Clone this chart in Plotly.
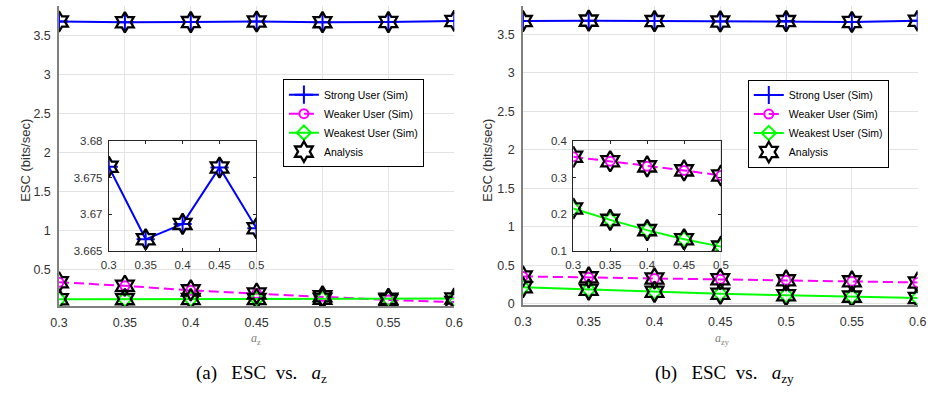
import plotly.graph_objects as go

# ---------------- data ----------------
x_main = [0.3, 0.35, 0.4, 0.45, 0.5, 0.55, 0.6]
x_inset = [0.3, 0.35, 0.4, 0.45, 0.5]

# (a) ESC vs a_z
strong_a = [3.6765, 3.6666, 3.6687, 3.6764, 3.6681, 3.6690, 3.6840]
weaker_a = [0.335, 0.290, 0.231, 0.190, 0.155, 0.107, 0.082]
weakest_a = [0.118, 0.119, 0.120, 0.121, 0.123, 0.124, 0.126]

# (b) ESC vs a_zy
strong_b = [3.670, 3.676, 3.670, 3.666, 3.670, 3.658, 3.674]
weaker_b = [0.357, 0.345, 0.331, 0.320, 0.306, 0.293, 0.279]
weakest_b = [0.216, 0.185, 0.157, 0.132, 0.112, 0.095, 0.078]

x_ticks = [0.3, 0.35, 0.4, 0.45, 0.5, 0.55, 0.6]
x_tick_text = ["0.3", "0.35", "0.4", "0.45", "0.5", "0.55", "0.6"]
inset_x_ticks = [0.3, 0.35, 0.4, 0.45, 0.5]
inset_x_text = ["0.3", "0.35", "0.4", "0.45", "0.5"]
y_ticks_a = [0.5, 1, 1.5, 2, 2.5, 3, 3.5]
y_ticks_b = [0, 0.5, 1, 1.5, 2, 2.5, 3, 3.5]
inset_a_y_ticks = [3.665, 3.67, 3.675, 3.68]
inset_a_y_text = ["3.665", "3.67", "3.675", "3.68"]
inset_b_y_ticks = [0.1, 0.2, 0.3, 0.4]
inset_b_y_text = ["0.1", "0.2", "0.3", "0.4"]

series_names = ["Strong User (Sim)", "Weaker User (Sim)", "Weakest User (Sim)"]

W, H = 935, 395
SANS = "Liberation Sans, Arial, sans-serif"
SERIF = "Liberation Serif, Times New Roman, serif"

BLUE = "#0000ff"
MAGENTA = "#ff00ff"
GREEN = "#00ff00"

styles = [
    dict(color=BLUE, dash="solid", symbol="cross-thin-open", msize=13),
    dict(color=MAGENTA, dash="10px,5px", symbol="circle-open", msize=9),
    dict(color=GREEN, dash="solid", symbol="diamond-open", msize=11),
]

fig = go.Figure()


def add_panel(xs, ys_list, idx_list, xa, ya, legend, show):
    # simulated curves (line + own marker)
    for ys, i in zip(ys_list, idx_list):
        st = styles[i]
        fig.add_trace(go.Scatter(
            x=xs, y=ys, name=series_names[i], mode="lines+markers",
            xaxis=xa, yaxis=ya, legend=legend, showlegend=show,
            line=dict(color=st["color"], width=2, dash=st["dash"]),
            marker=dict(symbol=st["symbol"], size=st["msize"],
                        color=st["color"], line=dict(color=st["color"], width=2)),
        ))
    # analytical points (hexagram markers)
    for k, ys in enumerate(ys_list):
        fig.add_trace(go.Scatter(
            x=xs, y=ys, name="Analysis", mode="markers",
            xaxis=xa, yaxis=ya, legend=legend,
            showlegend=show and k == 0,
            marker=dict(symbol="hexagram-open", size=15.5, color="black",
                        line=dict(color="black", width=2.3)),
        ))


add_panel(x_main, [strong_a, weaker_a, weakest_a], [0, 1, 2], "x", "y", "legend", True)
add_panel(x_main, [strong_b, weaker_b, weakest_b], [0, 1, 2], "x2", "y2", "legend2", True)
add_panel(x_inset, [strong_a[:5]], [0], "x3", "y3", "legend", False)
add_panel(x_inset, [weaker_b[:5], weakest_b[:5]], [1, 2], "x4", "y4", "legend2", False)


def px_x(p):
    return p / W


def px_y(p):
    return 1 - p / H


tick_font = dict(family=SANS, size=12.5, color="#333333")
inset_tick_font = dict(family=SANS, size=11.5, color="#333333")
main_axis = dict(showgrid=True, gridcolor="#e3e3e3", gridwidth=1,
                 showline=True, linecolor="#808080", linewidth=1.5,
                 ticks="", zeroline=False, tickfont=tick_font)
inset_axis = dict(showgrid=False, showline=True, linecolor="#262626", linewidth=1,
                  mirror="ticks", ticks="inside", ticklen=3, tickcolor="#262626",
                  zeroline=False, tickfont=inset_tick_font, ticklabelstandoff=3)

legend_style = dict(xanchor="left", yanchor="middle",
                    bgcolor="white", bordercolor="black", borderwidth=1,
                    font=dict(family=SANS, size=10.5, color="black"),
                    tracegroupgap=0, itemsizing="trace", itemwidth=30)

fig.update_layout(
    width=W, height=H,
    margin=dict(l=0, r=0, t=0, b=0),
    paper_bgcolor="white",
    plot_bgcolor="rgba(0,0,0,0)",
    xaxis=dict(main_axis, domain=[px_x(51), px_x(454)], range=[0.3, 0.6],
               tickvals=x_ticks, ticktext=x_tick_text, anchor="y", ticklabelstandoff=4),
    yaxis=dict(main_axis, domain=[px_y(309.3), 1], range=[0.032, 3.875],
               tickvals=y_ticks_a, anchor="x", ticklabelstandoff=4),
    xaxis2=dict(main_axis, domain=[px_x(524), px_x(926.5)], range=[0.3, 0.6],
                tickvals=x_ticks, ticktext=x_tick_text, anchor="y2", ticklabelstandoff=4),
    yaxis2=dict(main_axis, domain=[px_y(308.7), 1], range=[-0.018, 3.866],
                tickvals=y_ticks_b, anchor="x2", ticklabelstandoff=4),
    xaxis3=dict(inset_axis, domain=[px_x(101.7), px_x(252.3)], range=[0.3, 0.5],
                tickvals=inset_x_ticks, ticktext=inset_x_text, anchor="y3"),
    yaxis3=dict(inset_axis, domain=[px_y(252.7), px_y(139.3)], range=[3.665, 3.68],
                tickvals=inset_a_y_ticks, ticktext=inset_a_y_text, anchor="x3"),
    xaxis4=dict(inset_axis, domain=[px_x(575.3), px_x(726)], range=[0.3, 0.5],
                tickvals=inset_x_ticks, ticktext=inset_x_text, anchor="y4"),
    yaxis4=dict(inset_axis, domain=[px_y(252.7), px_y(139.3)], range=[0.1, 0.4],
                tickvals=inset_b_y_ticks, ticktext=inset_b_y_text, anchor="x4"),
    legend=dict(legend_style, x=px_x(279.3), y=px_y(120.8)),
    legend2=dict(legend_style, x=px_x(753.3), y=px_y(121.2)),
    showlegend=True,
)

# y titles, x titles and captions
ann = []
for cx, label in [(16, "ESC (bits/sec)"), (488, "ESC (bits/sec)")]:
    ann.append(dict(x=px_x(cx), y=px_y(159), xref="paper", yref="paper",
                    xanchor="center", yanchor="middle",
                    text=label, textangle=-90, showarrow=False,
                    font=dict(family=SANS, size=13, color="#333333")))
for cx, label in [(252, "<i>a</i><sub>z</sub>"), (727, "<i>a</i><sub>zy</sub>")]:
    ann.append(dict(x=px_x(cx), y=px_y(343), xref="paper", yref="paper",
                    xanchor="center", yanchor="middle",
                    text=label, showarrow=False,
                    font=dict(family=SERIF, size=12, color="#808080")))
sp3 = "&nbsp;&nbsp;&nbsp;"
sp2 = "&nbsp;&nbsp;"
for cx, label in [(257, "(a)" + sp3 + "ESC" + sp2 + "vs." + sp3 + "<i>a</i><sub>z</sub>"),
                  (730, "(b)" + sp3 + "ESC" + sp2 + "vs." + sp3 + "<i>a</i><sub>zy</sub>")]:
    ann.append(dict(x=px_x(cx), y=px_y(380), xref="paper", yref="paper",
                    xanchor="center", yanchor="middle",
                    text=label, showarrow=False,
                    font=dict(family=SERIF, size=19, color="black")))
fig.update_layout(annotations=ann)

fig.write_html("out.html")
